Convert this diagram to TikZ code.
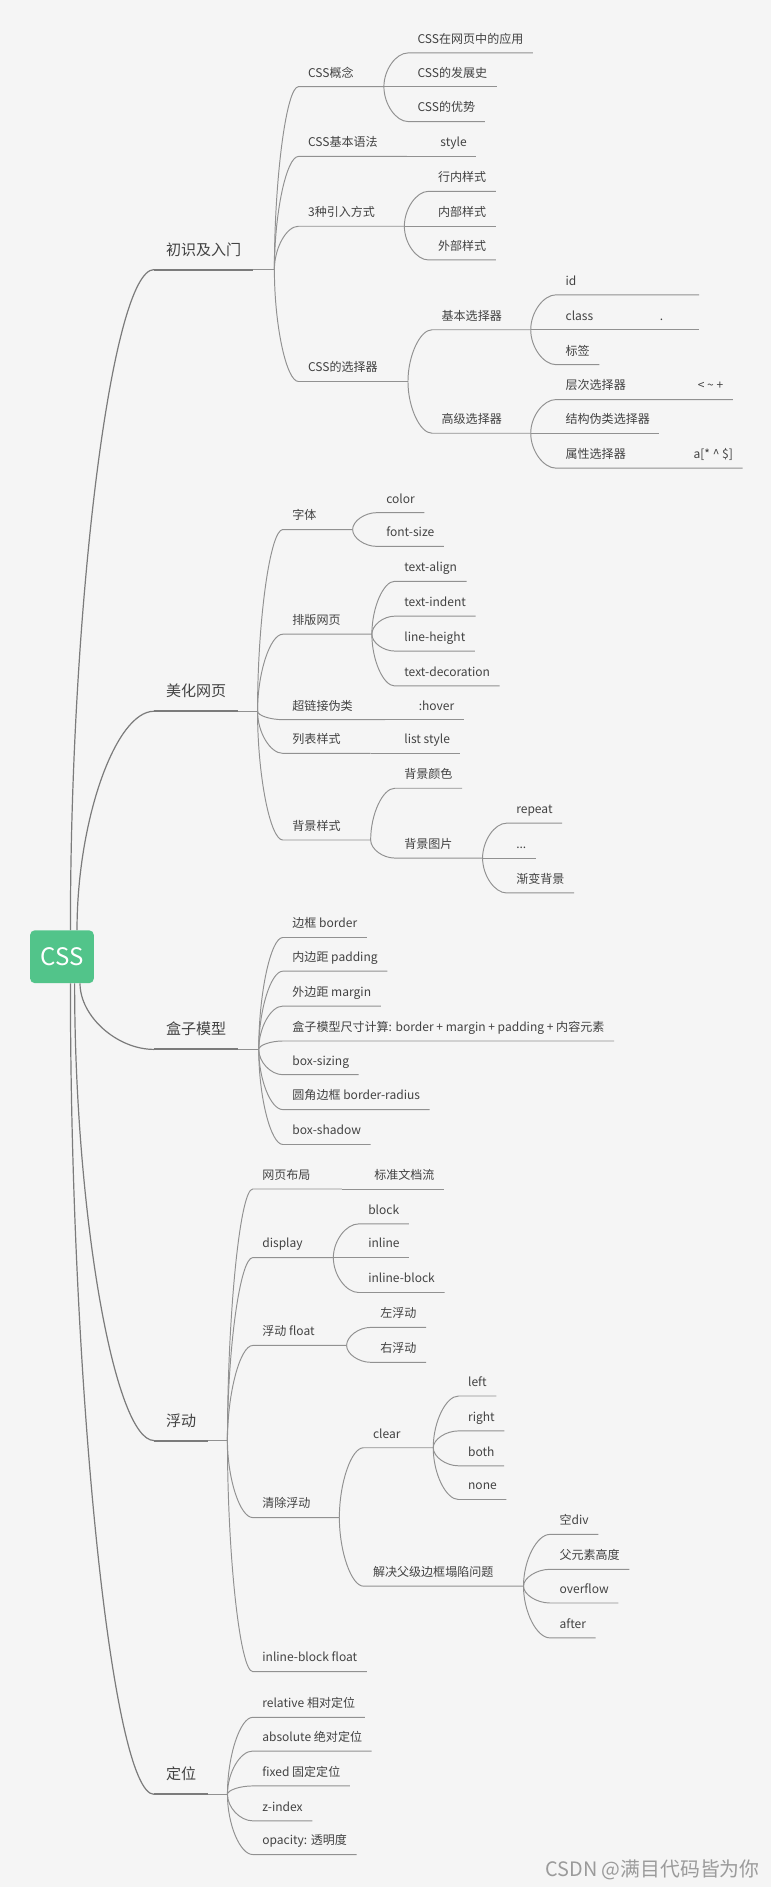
\documentclass[tikz,border=0pt]{standalone}
\usepackage{fontspec}
\setmainfont{Noto Sans CJK SC}
\usetikzlibrary{calc}
\definecolor{paper}{RGB}{245,245,245}
\definecolor{cssgreen}{RGB}{82,196,138}
\definecolor{wiregray}{RGB}{145,145,145}
\definecolor{ink}{RGB}{66,66,66}
\definecolor{stampgray}{RGB}{155,155,155}
\tikzset{
  twig/.style={to path={.. controls ($(\tikztostart)!0.5!(\tikztostart |- \tikztotarget)$) and ($(\tikztostart |- \tikztotarget)!0.5!(\tikztotarget)$) .. (\tikztotarget) \tikztonodes}},
  twigline/.style={draw=wiregray, line width=0.8pt},
  trunk/.style={draw=wiregray!85!black, line width=1pt},
  topicbar/.style={draw=wiregray!85!black, line width=1.6pt},
  leaf/.style={anchor=south west, inner xsep=8pt, inner ysep=0pt, outer sep=0pt, text height=8pt, text depth=8pt, text=ink, font=\fontsize{10}{12}\selectfont},
  topic/.style={anchor=south west, inner xsep=10pt, inner ysep=0pt, outer sep=0pt, text height=10pt, text depth=12pt, text=ink, font=\fontsize{12.5}{15}\selectfont},
  rootbox/.style={fill=cssgreen, rounded corners=4pt, minimum width=53pt, minimum height=44pt, inner sep=0pt, text=white, font=\fontsize{20}{24}\selectfont}
}
\begin{document}
\begin{tikzpicture}[x=1pt, y=-1pt]
	\useasboundingbox (0,0) rectangle (641,1568);
	\fill[paper] (0,0) rectangle (641,1568);
	% Root and main topics:
	\node[rootbox] (root) at (51.5,795) {CSS};
	\node[topic] (t1) at (128,224) {初识及入门};
	\node[topic] (t2) at (128,591) {美化网页};
	\node[topic] (t3) at (128,872) {盒子模型};
	\node[topic] (t4) at (128,1197) {浮动};
	\node[topic] (t5) at (128,1491) {定位};
	\coordinate (f1) at (228,224);
	\coordinate (f2) at (214,591);
	\coordinate (f3) at (215,872);
	\coordinate (f4) at (189,1197);
	\coordinate (f5) at (189,1491);
	% 初识及入门
	\node[leaf] (a1) at (248,72) {CSS概念};
	\node[leaf] (a2) at (248,130) {CSS基本语法};
	\node[leaf] (a3) at (248,188) {3种引入方式};
	\node[leaf] (a4) at (248,317) {CSS的选择器};
	\coordinate (fa1) at (319,72);
	\coordinate (fa2) at (338,130);
	\coordinate (fa3) at (336,188);
	\coordinate (fa4) at (339,317);
	\node[leaf] (a11) at (339,44) {CSS在网页中的应用};
	\node[leaf] (a12) at (339,72) {CSS的发展史};
	\node[leaf] (a13) at (339,101) {CSS的优势};
	\node[leaf] (a21) at (358,130) {style};
	\node[leaf] (a31) at (356,159) {行内样式};
	\node[leaf] (a32) at (356,188) {内部样式};
	\node[leaf] (a33) at (356,216) {外部样式};
	\node[leaf] (a41) at (359,274) {基本选择器};
	\node[leaf] (a42) at (359,360) {高级选择器};
	\coordinate (fa41) at (441,274);
	\coordinate (fa42) at (441,360);
	\node[leaf] (a411) at (462,245) {\makebox[103pt][l]{id}};
	\node[leaf] (a412) at (462,274) {\makebox[103pt][l]{class\hfill.\hspace{22pt}}};
	\node[leaf] (a413) at (462,303) {标签};
	\node[leaf] (a421) at (462,332) {\makebox[131pt][l]{层次选择器\hfill<\ \textasciitilde\ +}};
	\node[leaf] (a422) at (462,360) {结构伪类选择器};
	\node[leaf] (a423) at (462,389) {\makebox[139pt][l]{属性选择器\hfill a[* \textasciicircum{} \$]}};
	% 美化网页
	\node[leaf] (b1) at (235,440) {字体};
	\node[leaf] (b2) at (235,527) {排版网页};
	\node[leaf] (b3) at (235,598) {超链接伪类};
	\node[leaf] (b4) at (235,626) {列表样式};
	\node[leaf] (b5) at (235,698) {背景样式};
	\coordinate (fb1) at (293,440);
	\coordinate (fb2) at (309,527);
	\coordinate (fb3) at (320,598);
	\coordinate (fb4) at (308,626);
	\coordinate (fb5) at (308,698);
	\node[leaf] (b11) at (313,426) {color};
	\node[leaf] (b12) at (313,454) {font-size};
	\node[leaf] (b21) at (328,483) {text-align};
	\node[leaf] (b22) at (328,512) {text-indent};
	\node[leaf] (b23) at (328,541) {line-height};
	\node[leaf] (b24) at (328,570) {text-decoration};
	\node[leaf] (b31) at (340,598) {:hover};
	\node[leaf] (b41) at (328,626) {list style};
	\node[leaf] (b51) at (328,655) {背景颜色};
	\node[leaf] (b52) at (328,713) {背景图片};
	\coordinate (fb52) at (401,713);
	\node[leaf] (b521) at (421,684) {repeat};
	\node[leaf] (b522) at (421,713) {...};
	\node[leaf] (b523) at (421,742) {渐变背景};
	% 盒子模型
	\node[leaf] (c1) at (235,779) {边框 border};
	\node[leaf] (c2) at (235,807) {内边距 padding};
	\node[leaf] (c3) at (235,836) {外边距 margin};
	\node[leaf] (c4) at (235,865) {盒子模型尺寸计算: border + margin + padding + 内容元素};
	\node[leaf] (c5) at (235,893) {box-sizing};
	\node[leaf] (c6) at (235,922) {圆角边框 border-radius};
	\node[leaf] (c7) at (235,951) {box-shadow};
	% 浮动
	\node[leaf] (d1) at (210,988) {网页布局};
	\node[leaf] (d2) at (210,1045) {display};
	\node[leaf] (d3) at (210,1118) {浮动 float};
	\node[leaf] (d4) at (210,1261) {清除浮动};
	\node[leaf] (d5) at (210,1389) {inline-block float};
	\coordinate (fd1) at (284,988);
	\coordinate (fd2) at (277,1045);
	\coordinate (fd3) at (288,1118);
	\coordinate (fd4) at (282,1261);
	\node[leaf] (d11) at (303,988) {标准文档流};
	\node[leaf] (d21) at (298,1017) {block};
	\node[leaf] (d22) at (298,1045) {inline};
	\node[leaf] (d23) at (298,1074) {inline-block};
	\node[leaf] (d31) at (308,1103) {左浮动};
	\node[leaf] (d32) at (308,1132) {右浮动};
	\node[leaf] (d41) at (302,1203) {clear};
	\node[leaf] (d42) at (302,1318) {解决父级边框塌陷问题};
	\coordinate (fd41) at (360,1203);
	\coordinate (fd42) at (435,1318);
	\node[leaf] (d411) at (381,1160) {left};
	\node[leaf] (d412) at (381,1189) {right};
	\node[leaf] (d413) at (381,1218) {both};
	\node[leaf] (d414) at (381,1246) {none};
	\node[leaf] (d421) at (457,1275) {空div};
	\node[leaf] (d422) at (457,1304) {父元素高度};
	\node[leaf] (d423) at (457,1332) {overflow};
	\node[leaf] (d424) at (457,1361) {after};
	% 定位
	\node[leaf] (e1) at (210,1427) {relative 相对定位};
	\node[leaf] (e2) at (210,1455) {absolute 绝对定位};
	\node[leaf] (e3) at (210,1484) {fixed 固定定位};
	\node[leaf] (e4) at (210,1513) {z-index};
	\node[leaf] (e5) at (210,1541) {opacity: 透明度};
	\node[anchor=base west, inner sep=0pt, text=stampgray, font=\fontsize{16.5}{18}\selectfont] (stamp) at (453,1559) {CSDN @满目代码皆为你};
	% Root curves and topic bars:
	\draw[trunk] ([xshift=7pt]root.north) to[twig] (t1.south west);
	\draw[trunk] ([xshift=12.5pt]root.north) to[twig] (t2.south west);
	\draw[trunk] ([xshift=15pt]root.south) to[twig] (t3.south west);
	\draw[trunk] ([xshift=10.5pt]root.south) to[twig] (t4.south west);
	\draw[trunk] ([xshift=7pt]root.south) to[twig] (t5.south west);
	\draw[topicbar] (t1.south west) -- (t1.south east);
	\draw[topicbar] (t2.south west) -- (t2.south east);
	\draw[topicbar] (t3.south west) -- (t3.south east);
	\draw[topicbar] (t4.south west) -- (t4.south east);
	\draw[topicbar] (t5.south west) -- (t5.south east);
	\draw[twigline] (t1.south east) -- (f1);
	\draw[twigline] (t2.south east) -- (f2);
	\draw[twigline] (t3.south east) -- (f3);
	\draw[twigline] (t4.south east) -- (f4);
	\draw[twigline] (t5.south east) -- (f5);
	% Twigs, 初识及入门
	\draw[twigline] (f1) to[twig] (a1.south west) -- (fa1);
	\draw[twigline] (f1) to[twig] (a2.south west) -- (fa2);
	\draw[twigline] (f1) to[twig] (a3.south west) -- (fa3);
	\draw[twigline] (f1) to[twig] (a4.south west) -- (fa4);
	\draw[twigline] (fa1) to[twig] (a11.south west) -- (a11.south east);
	\draw[twigline] (fa1) to[twig] (a12.south west) -- (a12.south east);
	\draw[twigline] (fa1) to[twig] (a13.south west) -- (a13.south east);
	\draw[twigline] (fa2) to[twig] (a21.south west) -- (a21.south east);
	\draw[twigline] (fa3) to[twig] (a31.south west) -- (a31.south east);
	\draw[twigline] (fa3) to[twig] (a32.south west) -- (a32.south east);
	\draw[twigline] (fa3) to[twig] (a33.south west) -- (a33.south east);
	\draw[twigline] (fa4) to[twig] (a41.south west) -- (fa41);
	\draw[twigline] (fa4) to[twig] (a42.south west) -- (fa42);
	\draw[twigline] (fa41) to[twig] (a411.south west) -- (a411.south east);
	\draw[twigline] (fa41) to[twig] (a412.south west) -- (a412.south east);
	\draw[twigline] (fa41) to[twig] (a413.south west) -- (a413.south east);
	\draw[twigline] (fa42) to[twig] (a421.south west) -- (a421.south east);
	\draw[twigline] (fa42) to[twig] (a422.south west) -- (a422.south east);
	\draw[twigline] (fa42) to[twig] (a423.south west) -- (a423.south east);
	% Twigs, 美化网页
	\draw[twigline] (f2) to[twig] (b1.south west) -- (fb1);
	\draw[twigline] (f2) to[twig] (b2.south west) -- (fb2);
	\draw[twigline] (f2) to[twig] (b3.south west) -- (fb3);
	\draw[twigline] (f2) to[twig] (b4.south west) -- (fb4);
	\draw[twigline] (f2) to[twig] (b5.south west) -- (fb5);
	\draw[twigline] (fb1) to[twig] (b11.south west) -- (b11.south east);
	\draw[twigline] (fb1) to[twig] (b12.south west) -- (b12.south east);
	\draw[twigline] (fb2) to[twig] (b21.south west) -- (b21.south east);
	\draw[twigline] (fb2) to[twig] (b22.south west) -- (b22.south east);
	\draw[twigline] (fb2) to[twig] (b23.south west) -- (b23.south east);
	\draw[twigline] (fb2) to[twig] (b24.south west) -- (b24.south east);
	\draw[twigline] (fb3) to[twig] (b31.south west) -- (b31.south east);
	\draw[twigline] (fb4) to[twig] (b41.south west) -- (b41.south east);
	\draw[twigline] (fb5) to[twig] (b51.south west) -- (b51.south east);
	\draw[twigline] (fb5) to[twig] (b52.south west) -- (fb52);
	\draw[twigline] (fb52) to[twig] (b521.south west) -- (b521.south east);
	\draw[twigline] (fb52) to[twig] (b522.south west) -- (b522.south east);
	\draw[twigline] (fb52) to[twig] (b523.south west) -- (b523.south east);
	% Twigs, 盒子模型
	\draw[twigline] (f3) to[twig] (c1.south west) -- (c1.south east);
	\draw[twigline] (f3) to[twig] (c2.south west) -- (c2.south east);
	\draw[twigline] (f3) to[twig] (c3.south west) -- (c3.south east);
	\draw[twigline] (f3) to[twig] (c4.south west) -- (c4.south east);
	\draw[twigline] (f3) to[twig] (c5.south west) -- (c5.south east);
	\draw[twigline] (f3) to[twig] (c6.south west) -- (c6.south east);
	\draw[twigline] (f3) to[twig] (c7.south west) -- (c7.south east);
	% Twigs, 浮动
	\draw[twigline] (f4) to[twig] (d1.south west) -- (fd1);
	\draw[twigline] (f4) to[twig] (d2.south west) -- (fd2);
	\draw[twigline] (f4) to[twig] (d3.south west) -- (fd3);
	\draw[twigline] (f4) to[twig] (d4.south west) -- (fd4);
	\draw[twigline] (f4) to[twig] (d5.south west) -- (d5.south east);
	\draw[twigline] (fd1) to[twig] (d11.south west) -- (d11.south east);
	\draw[twigline] (fd2) to[twig] (d21.south west) -- (d21.south east);
	\draw[twigline] (fd2) to[twig] (d22.south west) -- (d22.south east);
	\draw[twigline] (fd2) to[twig] (d23.south west) -- (d23.south east);
	\draw[twigline] (fd3) to[twig] (d31.south west) -- (d31.south east);
	\draw[twigline] (fd3) to[twig] (d32.south west) -- (d32.south east);
	\draw[twigline] (fd4) to[twig] (d41.south west) -- (fd41);
	\draw[twigline] (fd4) to[twig] (d42.south west) -- (fd42);
	\draw[twigline] (fd41) to[twig] (d411.south west) -- (d411.south east);
	\draw[twigline] (fd41) to[twig] (d412.south west) -- (d412.south east);
	\draw[twigline] (fd41) to[twig] (d413.south west) -- (d413.south east);
	\draw[twigline] (fd41) to[twig] (d414.south west) -- (d414.south east);
	\draw[twigline] (fd42) to[twig] (d421.south west) -- (d421.south east);
	\draw[twigline] (fd42) to[twig] (d422.south west) -- (d422.south east);
	\draw[twigline] (fd42) to[twig] (d423.south west) -- (d423.south east);
	\draw[twigline] (fd42) to[twig] (d424.south west) -- (d424.south east);
	% Twigs, 定位
	\draw[twigline] (f5) to[twig] (e1.south west) -- (e1.south east);
	\draw[twigline] (f5) to[twig] (e2.south west) -- (e2.south east);
	\draw[twigline] (f5) to[twig] (e3.south west) -- (e3.south east);
	\draw[twigline] (f5) to[twig] (e4.south west) -- (e4.south east);
	\draw[twigline] (f5) to[twig] (e5.south west) -- (e5.south east);
\end{tikzpicture}
\end{document}
